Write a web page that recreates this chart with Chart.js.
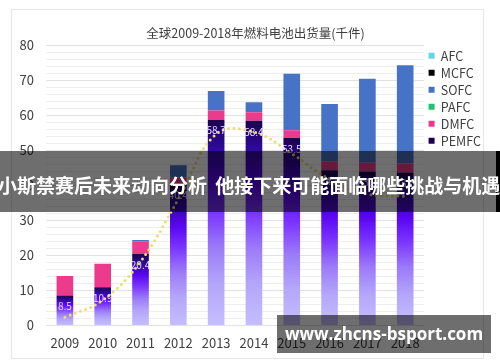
<!DOCTYPE html>
<html>
<head>
<meta charset="utf-8">
<script src="https://cdn.jsdelivr.net/npm/chart.js@4.4.1/dist/chart.umd.min.js"></script>
<style>
  body { margin: 0; background: #fff; width: 500px; height: 362px; overflow: hidden; position: relative; }
  #card { position: absolute; left: 11px; top: 9px; width: 471px; height: 348px; border: 1px solid #e6e6e6; }
  #wrap { position: absolute; left: 0; top: 0; width: 500px; height: 362px; }
  #banner { position: absolute; left: 0; top: 151px; width: 496px; height: 61px; background: rgba(0,0,0,0.57); }
  #edge { position: absolute; left: 496px; top: 151px; width: 4px; height: 61px; background: #000; }
  #bannerText { position: absolute; left: -2px; top: 151px; height: 61px; color: #fff;
    font: bold 19px 'Noto Sans CJK SC', sans-serif; line-height: 61px; margin-top: 3px;
    white-space: nowrap; word-spacing: 4px; }
  #mark { position: absolute; left: 277px; top: 315px; width: 214px; height: 38px; background: rgba(0,0,0,0.57);
    color: #fff; font: bold 17px 'Open Sans', sans-serif; line-height: 38px; text-align: center; }
</style>
</head>
<body>
<div id="card"></div>
<div id="wrap"><canvas id="chart"></canvas></div>
<div id="banner"></div>
<div id="edge"></div>
<div id="bannerText">小斯禁赛后未来动向分析 他接下来可能面临哪些挑战与机遇</div>
<div id="mark">www.zhcns-bsport.com</div>
<script>
// data (thousand units)
var years = ['2009', '2010', '2011', '2012', '2013', '2014', '2015', '2016', '2017', '2018'];
var pemfc = [8.5, 10.9, 20.4, 40.4, 58.7, 58.4, 53.5, 44.3, 43.9, 43.6];
var dmfc  = [5.6, 6.7, 3.6, 1.8, 2.6, 2.4, 2.2, 2.5, 2.5, 2.6];
var pafc  = [0, 0, 0, 0, 0, 0, 0, 0, 0, 0];
var sofc  = [0, 0, 0.4, 3.5, 5.6, 2.9, 16.1, 16.4, 24.0, 28.0];
var mcfc  = [0, 0, 0, 0, 0, 0, 0, 0, 0, 0];
var afc   = [0, 0, 0, 0, 0, 0, 0, 0, 0, 0];
var trend = [2.3, 7.2, 18.2, 36, 54.6, 55.2, 49, 41.7, 37.5, 36.8];

var fontFamily = "'Noto Sans CJK SC', 'Noto Sans', sans-serif";

// vertical gradient per PEMFC bar
function pemfcFill(c) {
  var chart = c.chart;
  if (c.type !== 'data' || !chart.chartArea) return '#2a0c8a';
  var y = chart.scales.y;
  var top = y.getPixelForValue(c.raw);
  var base = y.getPixelForValue(0);
  var g = chart.ctx.createLinearGradient(0, top, 0, base);
  g.addColorStop(0, '#1c004c');
  g.addColorStop(0.12, '#2c0894');
  g.addColorStop(0.3, '#5a06f2');
  g.addColorStop(0.45, '#7a34ff');
  g.addColorStop(0.62, '#9b7af8');
  g.addColorStop(0.8, '#b4a6fa');
  g.addColorStop(1, '#c6beff');
  return g;
}

// value labels on the PEMFC bars
var valueLabels = {
  id: 'valueLabels',
  afterDatasetsDraw: function(chart) {
    var meta = chart.getDatasetMeta(0);
    var ctx = chart.ctx;
    ctx.save();
    ctx.font = '10px ' + fontFamily;
    ctx.fillStyle = '#e6deff';
    ctx.textAlign = 'center';
    ctx.textBaseline = 'middle';
    meta.data.forEach(function(bar, i) {
      ctx.fillText(pemfc[i].toFixed(1), bar.x, bar.y + 11);
    });
    ctx.restore();
  }
};

function bar(label, data, color) {
  return { type: 'bar', label: label, data: data, backgroundColor: color,
    barPercentage: 0.44, categoryPercentage: 1, order: 1, stack: 'fc' };
}

var ctx = document.getElementById('chart').getContext('2d');
var chart = new Chart(ctx, {
  data: {
    labels: years,
    datasets: [
      bar('PEMFC', pemfc, pemfcFill),
      bar('DMFC', dmfc, '#ec3a8c'),
      bar('PAFC', pafc, '#1fc46c'),
      bar('SOFC', sofc, '#4673c6'),
      bar('MCFC', mcfc, '#000000'),
      bar('AFC', afc, '#5fd8e2'),
      {
        type: 'line', label: 'trend', data: trend, stack: 'trend', order: 0,
        borderColor: '#eedd72', borderWidth: 3, borderDash: [0, 5.5], borderCapStyle: 'round',
        pointRadius: 0, tension: 0.4, fill: false
      }
    ]
  },
  options: {
    responsive: true,
    maintainAspectRatio: false,
    animation: false,
    layout: { padding: { left: 20, right: 9, top: 0, bottom: 1 } },
    scales: {
      x: {
        stacked: true,
        grid: { display: false, drawTicks: false },
        border: { display: false },
        ticks: { color: '#404040', padding: 10, font: { family: fontFamily, size: 13 } }
      },
      y: {
        stacked: true,
        min: 0, max: 80,
        afterFit: function(s) { s.width = 26; },
        border: { display: false },
        grid: {
          drawTicks: false,
          color: function(c) { return c.tick.value % 10 === 0 ? '#e2e2e2' : '#eeeeee'; }
        },
        ticks: {
          stepSize: 2, autoSkip: false, padding: 12, color: '#404040',
          font: { family: fontFamily, size: 13 },
          callback: function(v) { return v % 10 === 0 ? v : ''; }
        }
      }
    },
    plugins: {
      title: {
        display: true, text: '全球2009-2018年燃料电池出货量(千件)', color: '#404040',
        font: { family: fontFamily, size: 12.5, weight: 'normal' },
        padding: { top: 26, bottom: 4 }
      },
      legend: {
        position: 'right', align: 'start', reverse: true, fullSize: false,
        labels: {
          boxWidth: 6, boxHeight: 6, padding: 4.5, color: '#404040',
          font: { family: fontFamily, size: 12.5 },
          filter: function(item) { return item.datasetIndex < 6; }
        }
      },
      tooltip: { enabled: false }
    }
  },
  plugins: [valueLabels]
});
</script>
</body>
</html>
